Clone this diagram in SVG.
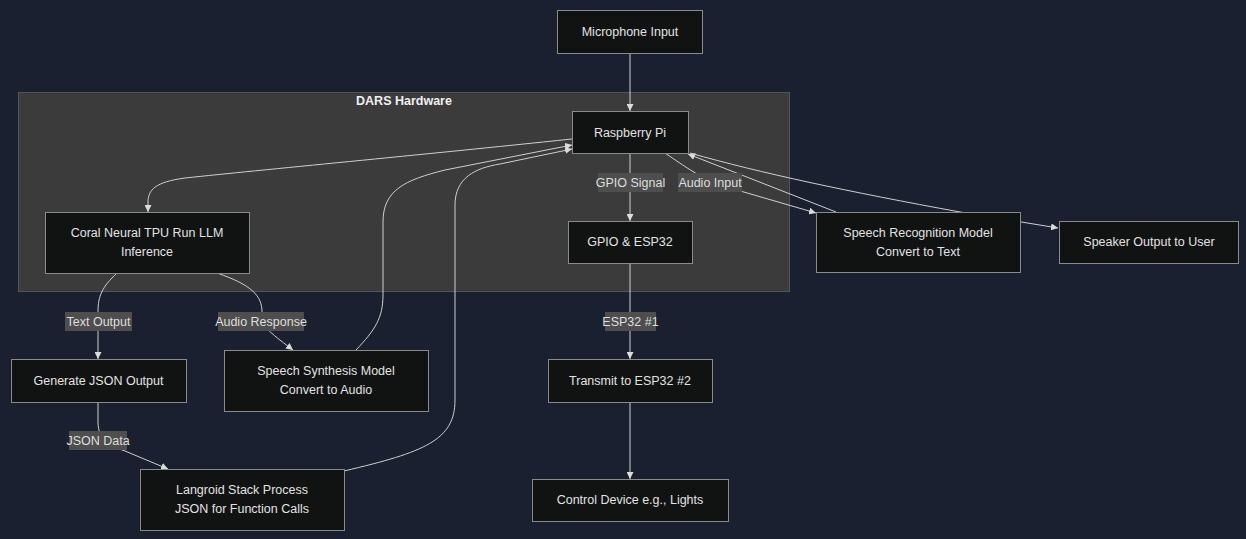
<svg xmlns="http://www.w3.org/2000/svg" width="1246" height="539" viewBox="0 0 1246 539">
<defs>
<style>
.bg{fill:#1b2030}
.cluster{fill:#3a3b3a;stroke:#51555b;stroke-width:1}
.ctitle{fill:#f0f0f0;font-family:"Liberation Sans",Arial,sans-serif;font-size:12.5px;font-weight:bold;text-anchor:middle}
.node rect{fill:#111313;stroke:#8a8a8a;stroke-width:1}
.node text{fill:#e2e2e2;font-family:"Liberation Sans",Arial,sans-serif;font-size:12.5px;text-anchor:middle}
.edge{fill:none;stroke:#cfcfcf;stroke-width:1;marker-end:url(#arr)}
.elabel rect{fill:#4e4e4e}
.elabel text{fill:#dedede;font-family:"Liberation Sans",Arial,sans-serif;font-size:12.5px;text-anchor:middle}
</style>
<marker id="arr" viewBox="0 0 10 10" refX="10" refY="5" markerWidth="7" markerHeight="7" markerUnits="userSpaceOnUse" orient="auto">
<path d="M0,0 L10,5 L0,10 z" fill="#dcdcdc"/>
</marker>
</defs>
<rect class="bg" x="0" y="0" width="1246" height="539"/>
<g id="cluster-dars">
<rect class="cluster" x="18.5" y="92.5" width="771" height="199"/>
<text class="ctitle" x="404" y="105">DARS Hardware</text>
</g>
<g id="edges">
<path class="edge" d="M630,53 L630,111"/>
<path class="edge" d="M630,153 L630,221"/>
<path class="edge" d="M630,263 L630,359"/>
<path class="edge" d="M630,402 L630,479"/>
<path class="edge" d="M572,139 C420,155 260,170 185,178 C155,182 148,190 148,202 L148,212"/>
<path class="edge" d="M356,350 C375,330 383,318 383,295 L383,222 C383,190 405,180 445,170 L572,145"/>
<path class="edge" d="M344,471 C425,452 455,440 455,400 L455,205 C455,178 475,168 500,164 L572,149"/>
<path class="edge" d="M117,273 C102,287 98,296 98,312 L98,359"/>
<path class="edge" d="M217,273 C252,285 262,296 262,312 L262,322 C267,331 280,340 293,350"/>
<path class="edge" d="M98,402 L98,422 C98,440 110,446 125,451 L168,469"/>
<path class="edge" d="M665,153 C690,170 705,181 730,188 L816,213"/>
<path class="edge" d="M836,212 L688,154"/>
<path class="edge" d="M690,153 C760,173 850,192 960,212 L1058,228"/>
</g>
<g id="edge-labels">
<g class="elabel"><rect x="598" y="173" width="65" height="19"/><text x="630.5" y="187">GPIO Signal</text></g>
<g class="elabel"><rect x="678" y="173" width="64" height="19"/><text x="710" y="187">Audio Input</text></g>
<g class="elabel"><rect x="65" y="312" width="67" height="19"/><text x="98.5" y="326">Text Output</text></g>
<g class="elabel"><rect x="218" y="312" width="86" height="19"/><text x="261" y="326">Audio Response</text></g>
<g class="elabel"><rect x="69" y="431" width="58" height="19"/><text x="98" y="445">JSON Data</text></g>
<g class="elabel"><rect x="605" y="312" width="51" height="19"/><text x="630.5" y="326">ESP32 #1</text></g>
</g>
<g id="node-mic" class="node"><rect x="557.5" y="10.5" width="145" height="43"/><text x="630" y="36">Microphone Input</text></g>
<g id="node-rpi" class="node"><rect x="572.5" y="111.5" width="116" height="42"/><text x="630" y="137">Raspberry Pi</text></g>
<g id="node-coral" class="node"><rect x="45.5" y="212.5" width="204" height="61"/><text x="147" y="237">Coral Neural TPU Run LLM</text><text x="147" y="256">Inference</text></g>
<g id="node-gpio" class="node"><rect x="568.5" y="221.5" width="124" height="42"/><text x="630" y="246">GPIO &amp; ESP32</text></g>
<g id="node-sr" class="node"><rect x="816.5" y="212.5" width="204" height="60"/><text x="918" y="237">Speech Recognition Model</text><text x="918" y="256">Convert to Text</text></g>
<g id="node-speaker" class="node"><rect x="1059.5" y="221.5" width="179" height="42"/><text x="1149" y="246">Speaker Output to User</text></g>
<g id="node-json" class="node"><rect x="11.5" y="359.5" width="175" height="43"/><text x="98.5" y="385">Generate JSON Output</text></g>
<g id="node-ss" class="node"><rect x="224.5" y="350.5" width="204" height="61"/><text x="326" y="375">Speech Synthesis Model</text><text x="326" y="394">Convert to Audio</text></g>
<g id="node-transmit" class="node"><rect x="548.5" y="359.5" width="164" height="43"/><text x="630" y="385">Transmit to ESP32 #2</text></g>
<g id="node-langroid" class="node"><rect x="140.5" y="469.5" width="204" height="61"/><text x="242" y="494">Langroid Stack Process</text><text x="242" y="513">JSON for Function Calls</text></g>
<g id="node-control" class="node"><rect x="532.5" y="479.5" width="196" height="42"/><text x="630" y="504">Control Device e.g., Lights</text></g>
</svg>
